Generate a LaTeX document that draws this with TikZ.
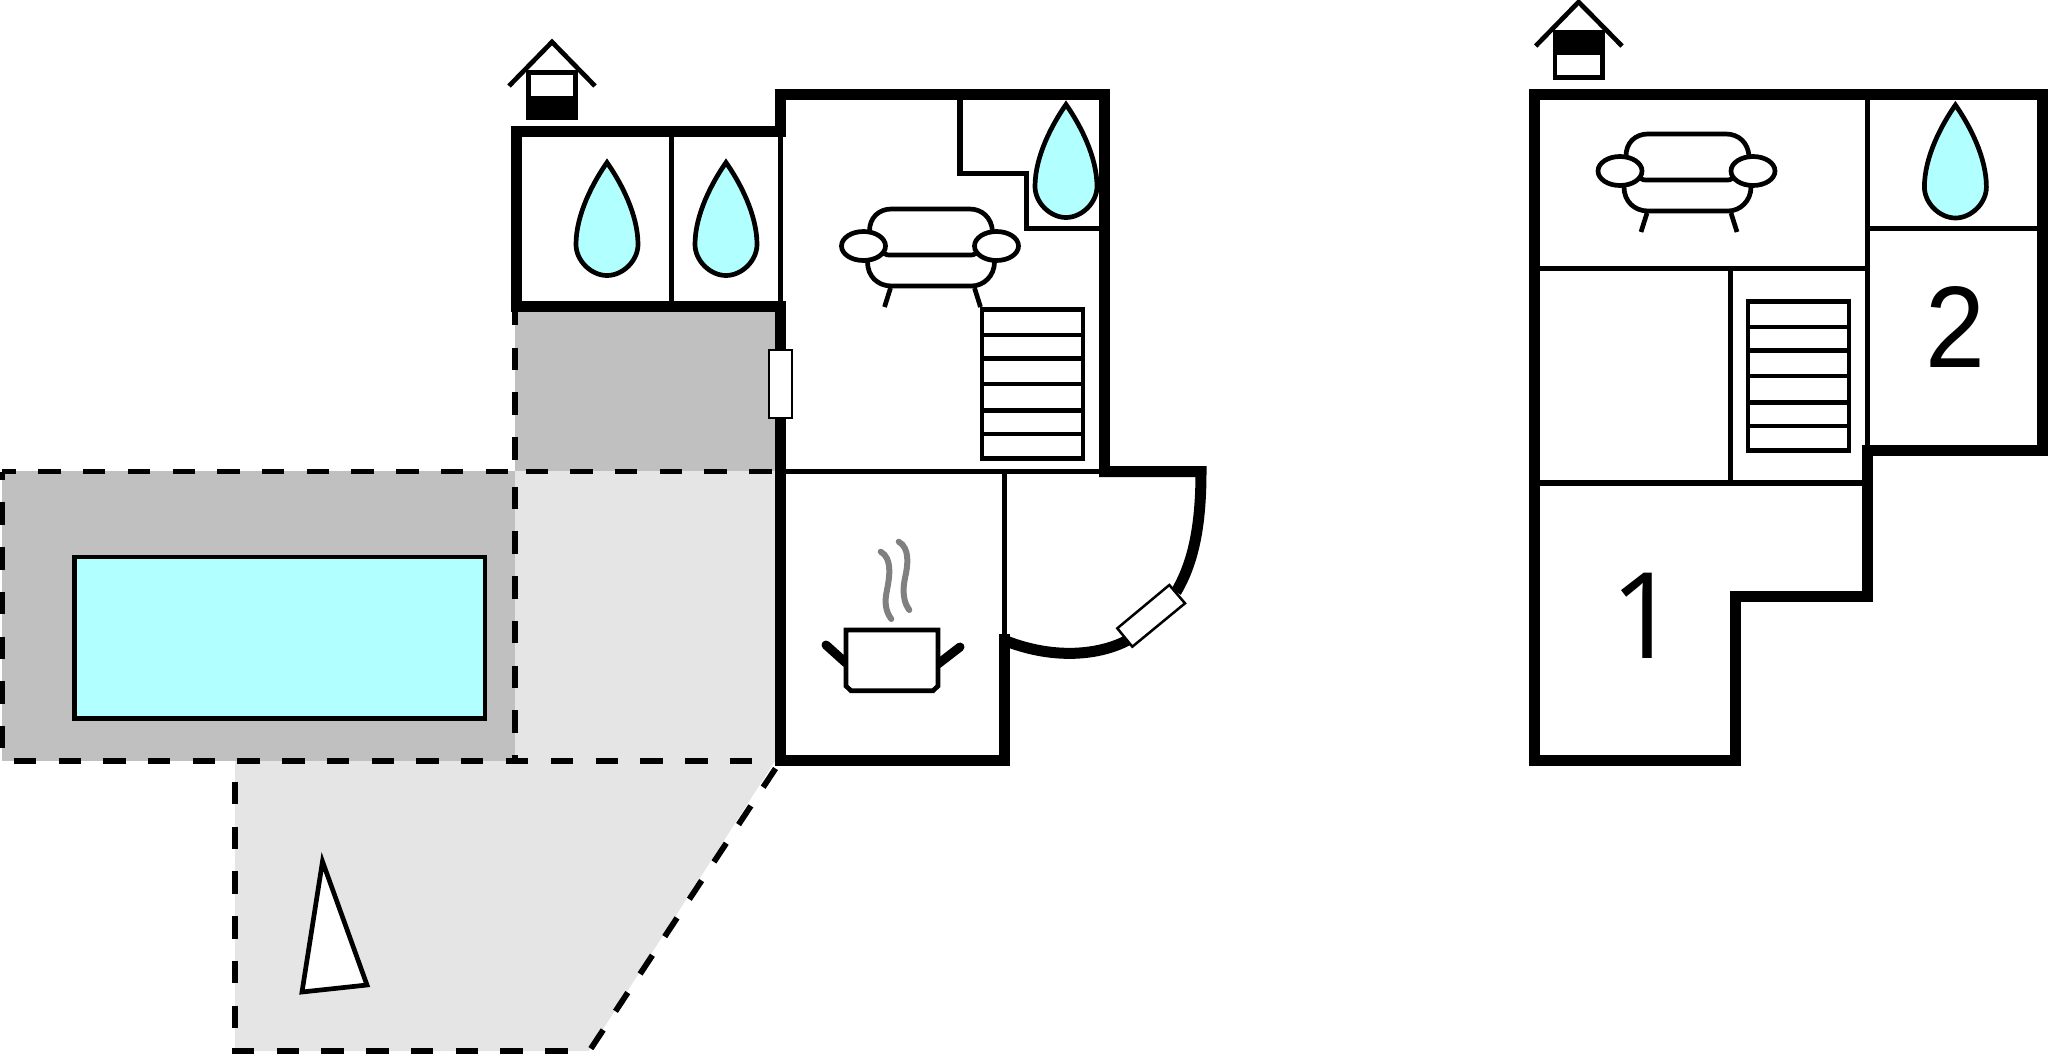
\documentclass[tikz,border=0pt]{standalone}
\usepackage{fontspec}
\setmainfont{Liberation Sans}
\newfontfamily\flagfont{Open Sans}
\definecolor{poolblue}{HTML}{B2FFFF}
\definecolor{paving}{HTML}{C0C0C0}
\definecolor{lawn}{HTML}{E5E5E5}

\begin{document}
\begin{tikzpicture}[x=0.01cm, y=-0.01cm, line join=miter,
    wall/.style={line width=0.11cm},
    thinwall/.style={line width=0.052cm},
    icon/.style={line width=0.047cm},
    edgeline/.style={line width=0.058cm, dash pattern=on 0.224cm off 0.223cm},
    roomlabel/.style={inner sep=0pt, font=\fontsize{34pt}{34pt}\selectfont},
    pics/waterdrop/.style={code={
        \draw [icon, fill=poolblue] (0,0) .. controls (14,20) and (31,52) .. (31,82) .. controls (31,98) and (16,113) .. (0,113) .. controls (-16,113) and (-31,98) .. (-31,82) .. controls (-31,52) and (-14,20) .. (0,0) -- cycle;
    }},
    pics/sofa/.style={code={
        \draw [icon] (6,-15) .. controls (6,-28) and (15,-37) .. (28,-37) -- (106,-37) .. controls (119,-37) and (128,-28) .. (129,-15);
        \draw [icon] (20,7) .. controls (22,9) and (24,9) .. (28,9) -- (105,9) .. controls (109,9) and (111,9) .. (113,7);
        \draw [icon] (4,16) .. controls (4,30) and (14,40) .. (28,40) -- (108,40) .. controls (120,40) and (131,30) .. (131,16);
        \draw [icon] (27,42) -- (21,61);
        \draw [icon] (111,42) -- (117,61);
        \draw [icon, fill=white] (0,0) ellipse (22 and 14.5);
        \draw [icon, fill=white] (133,0) ellipse (22 and 14.5);
    }},
    pics/stairs/.style={code={
        \draw [icon] (0,0) rectangle (101,149);
        \foreach \stepy in {25.5,49,74.5,101,124.5}
            \draw [icon] (0,\stepy) -- (101,\stepy);
    }}]
    \useasboundingbox (0,0) rectangle (2048,1054);

    % Ground areas
    \fill [lawn]	(515,471) rectangle (775,761);
    \fill [lawn]	(235,761) -- (775,761) -- (589,1051) -- (235,1051) -- cycle;
    \fill [paving]	(2.5,471) rectangle (515,761);
    \fill [paving]	(515,311) rectangle (775,471);

    % Pool and parasol
    \draw [icon, fill=poolblue]	(74.5,557) rectangle (485,718.5);
    \draw [icon, fill=white]	(322.5,861.5) -- (302,992) -- (367,985) -- cycle;

    % Dashed borders
    \draw [edgeline, dash phase=0.089cm]	(2.5,471.5) -- (510,471.5);
    \draw [edgeline]						(525.5,471.5) -- (772,471.5);
    \draw [edgeline, dash phase=0.138cm]	(2.5,471.5) -- (2.5,761);
    \draw [edgeline, dash phase=0.334cm]	(2.5,761) -- (528,761);
    \draw [edgeline]						(551,761) -- (758,761);
    \draw [edgeline, dash phase=0.08cm]	(515.3,311) -- (515.3,471);
    \draw [edgeline, dash phase=0.295cm]	(515.3,471.5) -- (515.3,761);
    \draw [edgeline, dash phase=0.237cm]	(234.7,761) -- (234.7,1051);
    \draw [edgeline]						(232,1051) -- (570,1051);
    \draw [edgeline]						(775.5,768.5) -- (589.3,1051);

    % Left house: inner walls
    \draw [thinwall]	(671.5,136) -- (671.5,302);
    \draw [thinwall]	(780.5,136) -- (780.5,302);
    \draw [thinwall]	(785,471.5) -- (1099,471.5);
    \draw [thinwall]	(1004.8,472) -- (1004.8,634);
    \draw [thinwall]	(960,99) -- (960,173.7) -- (1026.3,173.7) -- (1026.3,228.3) -- (1099,228.3);

    % Left house: outer walls
    \draw [wall]	(774.5,94) -- (1104,94) -- (1104,477);
    \draw [wall]	(780,94) -- (780,137);
    \draw [wall]	(510.5,131.5) -- (785,131.5);
    \draw [wall]	(516,126) -- (516,312);
    \draw [wall]	(510.5,306.5) -- (785,306.5);
    \draw [wall]	(780.5,301) -- (780.5,760) -- (1004.6,760) -- (1004.6,634);
    \draw [wall]	(1099,471.7) -- (1201,471.7) .. controls (1201,530) and (1192,565) .. (1176,592);
    \draw [wall]	(1128,640) .. controls (1100,655) and (1055,660) .. (1006,641);

    % Window and door
    \draw [line width=0.02cm, fill=white]	(769,350) rectangle (792,418);
    \draw [line width=0.025cm, fill=white]	(1169.3,585) -- (1185,603.3) -- (1132.3,646.7) -- (1117.3,628.3) -- cycle;

    % Left house: furniture
    \pic at (607,162.5)		{waterdrop};
    \pic at (726,162.5)		{waterdrop};
    \pic at (1066,104.5)	{waterdrop};
    \pic at (863.5,246)		{sofa};
    \pic at (982,309.5)		{stairs};

    % Kitchen pot
    \draw [line width=0.09cm, line cap=round]	(826,645) -- (846,663);
    \draw [line width=0.09cm, line cap=round]	(960,647) -- (938,664);
    \draw [icon, fill=white]	(846,630) -- (846,686) -- (851,690.7) -- (933,690.7) -- (938,686) -- (938,630) -- cycle;
    \draw [line width=0.06cm, gray, line cap=round]	(880.7,551.7) .. controls (892,558) and (890,575) .. (887,590) .. controls (884,603) and (886,612) .. (891.3,619);
    \draw [line width=0.06cm, gray, line cap=round]	(898.7,541.7) .. controls (910,548) and (908,565) .. (905,578) .. controls (902,592) and (904,603) .. (909.3,610);

    % Compass houses
    \fill				(526.7,95.7) rectangle (577.8,119.3);
    \draw [icon]		(528.7,72.7) rectangle (575.8,117.3);
    \draw [icon]		(509,86) -- (552,42) -- (595,86);
    \fill				(1553,30) rectangle (1604.4,55);
    \draw [icon]		(1555,32) rectangle (1602.4,77.7);
    \draw [icon]		(1535.7,46) -- (1578.6,2) -- (1622,46);

    % Right house: inner walls
    \draw [thinwall]	(1540,268.4) -- (1867.6,268.4);
    \draw [thinwall]	(1534,483) -- (1862,483);
    \draw [thinwall]	(1867.6,99) -- (1867.6,451);
    \draw [thinwall]	(1870,228.3) -- (2037,228.3);
    \draw [thinwall]	(1730.5,268) -- (1730.5,483);

    % Right house: outer walls
    \draw [wall]	(2048,94) -- (1534,94) -- (1534,760) -- (1735.7,760) -- (1735.7,596.8) -- (1867.7,596.8) -- (1867.7,450.5) -- (2048,450.5);
    \draw [wall]	(2042.6,94) -- (2042.6,450.5);

    % Right house: furniture
    \pic at (1955.4,105)	{waterdrop};
    \pic at (1620,171)		{sofa};
    \pic at (1748,301.5)	{stairs};

    % Floor numbers
    \node [roomlabel]	(floorone)	at (1644.5,616)	{\flagfont 1};
    \node [roomlabel, transform shape, xscale=0.9, yscale=0.97]	(floortwo)	at (1955.4,327.5)	{2};

\end{tikzpicture}
\end{document}
